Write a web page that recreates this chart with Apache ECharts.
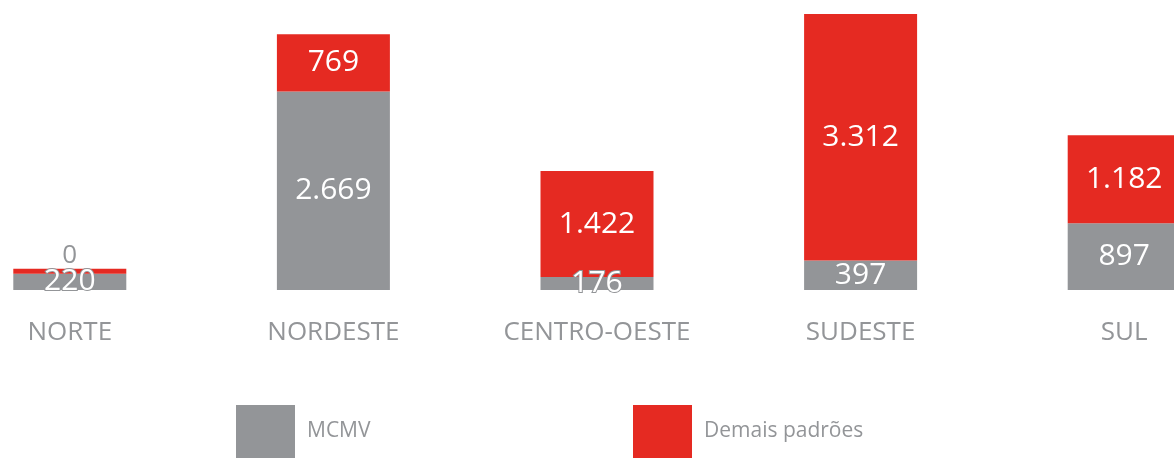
<!DOCTYPE html>
<html lang="pt">
<head>
<meta charset="utf-8">
<title>MCMV x Demais padrões</title>
<script src="https://cdn.jsdelivr.net/npm/echarts@6/dist/echarts.min.js"></script>
<style>
    html, body { margin: 0; padding: 0; background: #fff; overflow: hidden; }
    /* categories are wider than the page: the outer bands run off both edges */
    #chart { width: 1318px; height: 458px; margin-left: -62px; }
</style>
</head>
<body>
<div id="chart"></div>
<script>
var regioes = ['NORTE', 'NORDESTE', 'CENTRO-OESTE', 'SUDESTE', 'SUL'];
var mcmv = [220, 2669, 176, 397, 897];
var demais = [0, 769, 1422, 3312, 1182];

var GRAY = '#939598';
var RED = '#e52a22';

function fmt(v) {
    return String(v).replace(/\B(?=(\d{3})+(?!\d))/g, '.');
}

var chart = echarts.init(document.getElementById('chart'));
var option = {
    animation: false,
    textStyle: { fontFamily: 'Open Sans' },
    grid: { left: 0, right: 0, top: 14, bottom: 168 },
    legend: [
        {
            data: ['MCMV'], left: 298, top: 405, padding: 0,
            icon: 'rect', itemWidth: 59, itemHeight: 53, itemGap: 0,
            textStyle: { color: GRAY, fontSize: 21, padding: [0, 0, 0, 7] }
        },
        {
            data: ['Demais padrões'], left: 695, top: 405, padding: 0,
            icon: 'rect', itemWidth: 59, itemHeight: 53, itemGap: 0,
            textStyle: { color: GRAY, fontSize: 21, padding: [0, 0, 0, 7] }
        }
    ],
    xAxis: {
        type: 'category',
        data: regioes,
        axisLine: { show: false },
        axisTick: { show: false },
        axisLabel: { color: GRAY, fontSize: 26, margin: 30, interval: 0 }
    },
    yAxis: {
        type: 'value',
        show: false,
        max: 'dataMax'
    },
    series: [
        {
            name: 'MCMV',
            type: 'bar',
            stack: 'total',
            barWidth: 113,
            itemStyle: { color: GRAY },
            label: {
                show: true, position: 'inside', color: '#fff', fontSize: 30,
                // gray outline keeps short-bar labels readable where they spill out
                textBorderColor: GRAY, textBorderWidth: 2,
                formatter: function (p) { return fmt(p.value); }
            },
            data: mcmv
        },
        {
            name: 'Demais padrões',
            type: 'bar',
            stack: 'total',
            barWidth: 113,
            barMinHeight: 5,
            itemStyle: { color: RED },
            label: {
                show: true, position: 'inside', color: '#fff', fontSize: 30,
                formatter: function (p) { return fmt(p.value); }
            },
            data: demais.map(function (v) {
                if (v === 0) {
                    return { value: v, label: { position: 'top', color: GRAY, fontSize: 26, distance: 0 } };
                }
                return v;
            })
        }
    ]
};
chart.setOption(option);
</script>
</body>
</html>
